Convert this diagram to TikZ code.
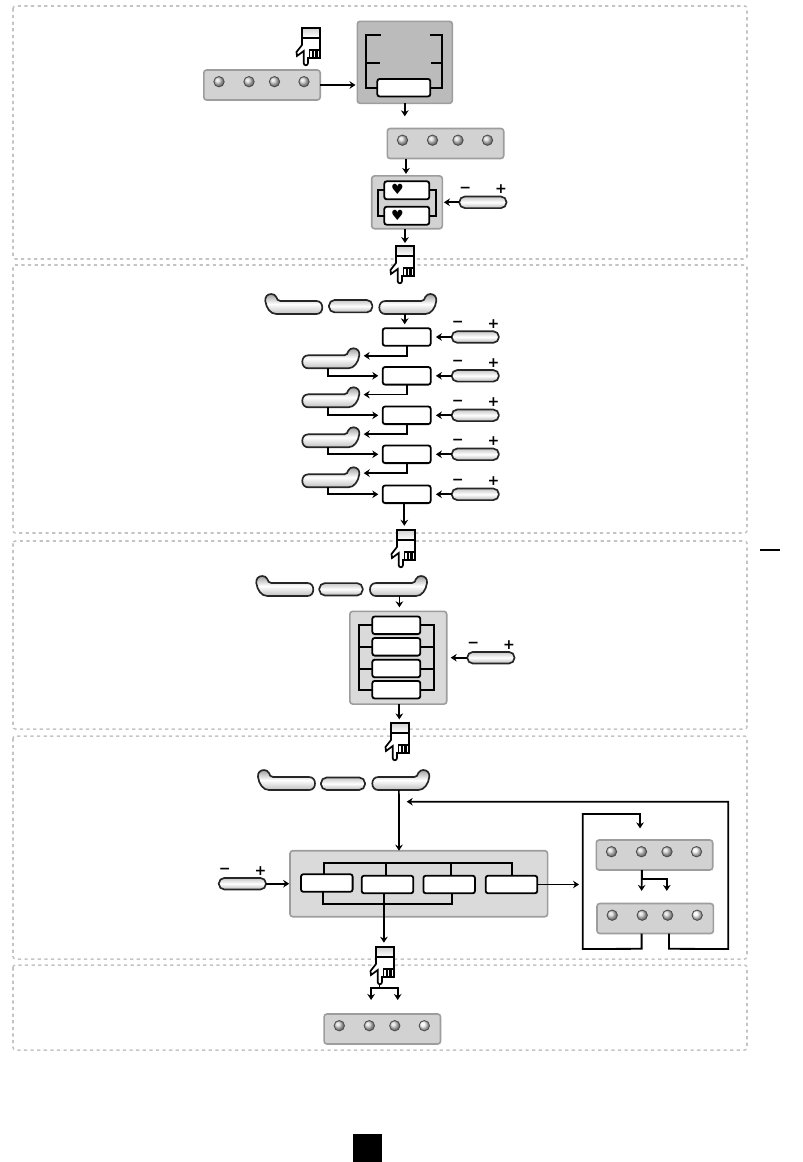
\documentclass[tikz,border=0pt]{standalone}
\usepackage{fontspec}
\usepackage{xcolor}
\usepackage{tikz}
\usetikzlibrary{positioning,arrows.meta,calc}
\newfontfamily\symfont{DejaVu Sans}
\definecolor{cPanel}{HTML}{D2D2D2}
\definecolor{cDark} {HTML}{BBBBBB}
\definecolor{cLight}{HTML}{DADADA}
\definecolor{cEdge} {HTML}{8C8C8C}
\definecolor{cZone} {HTML}{C4C4C4}
\tikzset{
  >={Stealth[length=1.5mm,width=1.9mm]},
  zone/.style={draw=cZone,line width=.38mm,dash pattern=on .8mm off .85mm,rounded corners=.6mm},
  tray/.style={draw=cEdge!85,line width=.4mm,rounded corners=.7mm,outer sep=0,inner sep=0},
  ledbar/.style={tray,fill=cPanel,minimum width=29.1mm,minimum height=7.5mm},
  led/.style={circle,inner sep=0,minimum size=2.6mm,draw=black!70,line width=.2mm,shading=ball},
  dispbox/.style={draw=black,fill=white,line width=.45mm,rounded corners=.6mm,outer sep=0,inner sep=0,
                  minimum width=12mm,minimum height=4.4mm},
  slider/.style={draw=black!85,line width=.42mm,rounded corners=1.4mm,outer sep=0,inner sep=0,
                 minimum width=11.8mm,minimum height=2.9mm,
                 top color=gray!45,bottom color=gray!55,middle color=white},
  midkey/.style={slider,minimum width=10.85mm,minimum height=3.1mm},
  pmtxt/.style={font=\symfont\bfseries\fontsize{10}{10}\selectfont,inner sep=0,text=black},
  hearttxt/.style={font=\symfont\fontsize{10}{10}\selectfont,inner sep=0,text=black},
  wire/.style={line width=.42mm,black},
  sar/.style={->,line width=.42mm,black},
  pics/hookkey/.style={code={
    \draw[line width=.42mm,draw=black!85,top color=gray!75,bottom color=gray!50,middle color=white]
      (6,7) -- (42,7) .. controls (45,7) and (45,5) .. (46,3) .. controls (47,1) and (49,0) .. (51,0)
      .. controls (55,0) and (57.5,3) .. (57,7) .. controls (56,14) and (52,20) .. (46,20) -- (6,20)
      .. controls (2,20) and (0,17) .. (0,13.5) .. controls (0,10) and (2,7) .. (6,7) -- cycle;
    \coordinate (-s) at (25.4,20);
  }},
  pics/handpic/.style={code={
    \draw[line width=.42mm,fill=white] (0,10) -- (0,17) -- (-5.5,24) -- (-5,28) -- (1.7,23) -- (1.7,35)
      .. controls (1.7,38) and (6,38) .. (6,35) -- (6,30) -- (18,30) -- (18,10) -- cycle;
    \draw[line width=.42mm,top color=gray!35,bottom color=white] (0,0) rectangle (18,10);
    \draw[line width=.42mm] (7.5,30) -- (7.5,22) -- (18,22);
    \draw[line width=.55mm] (11,22) -- (11,30) (14.5,22) -- (14.5,30);
    \coordinate (-top) at (9,0);
    \coordinate (-tip) at (3.5,37);
  }},
}
% four lamps on a bar, last one may differ
\newcommand{\ledrow}[2][gray!35]{%
  \foreach \dx/\cc [count=\i] in {-43/gray!35,-13/gray!35,12.5/gray!35,42/#1}
    \node[led,ball color=\cc] (#2led\i) at ($(#2)+(\dx,-3.3)$) {};}
\newcommand{\pmsigns}[1]{%
  \node[pmtxt] (#1minus) at ($(#1.north west)+(6,-7)$) {−};
  \node[pmtxt] (#1plus) at ($(#1.north east)+(-5.5,-7)$) {+};}

\begin{document}
\begin{tikzpicture}[x=.25mm,y=-.25mm]
  \useasboundingbox (0,0) rectangle (803,1162);
  \draw[zone] (13,6) rectangle (747,259);
  \draw[zone] (13,265) rectangle (747,533);
  \draw[zone] (13,541) rectangle (747,729);
  \draw[zone] (13,736) rectangle (747,959);
  \draw[zone] (13,965) rectangle (747,1050);

  % first block
  \pic (hand1) at (302,28) {handpic};
  \node[ledbar] (pa) at (262,85) {}; \ledrow{pa}
  \node[tray,fill=cDark,minimum width=23.75mm,minimum height=20.5mm] (dk) at (404.8,62.3) {};
  \node[dispbox,minimum width=13.25mm] (dw) at (403.8,87.7) {};
  \draw[wire] (dw.west) -- ++(-11.6,0) -- ++(0,-53) -- ++(15,0);
  \draw[wire] (dw.east) -- ++(12,0) -- ++(0,-53) -- ++(-12.5,0);
  \draw[wire] (366,63.3) -- (380,63.3) (430.5,63.3) -- (442.3,63.3);
  \draw[sar] (pa.east) -- ([xshift=-.45mm]dk.west |- pa.east);
  \node[ledbar] (pb) at (445.5,143.5) {}; \ledrow{pb}
  \draw[sar] (dk.south) -- ++(0,13);
  \node[tray,fill=cPanel,minimum width=17.65mm,minimum height=13.2mm] (hb) at (407,202.3) {};
  \node[dispbox,minimum width=11.25mm,minimum height=4.5mm] (hw1) at (406.8,190.3) {};
  \node[dispbox,minimum width=11.25mm,minimum height=4.5mm] (hw2) at (406.8,215.7) {};
  \node[hearttxt] (ht1) at ($(hw1)+(-9.5,-.5)$) {♥};
  \node[hearttxt] (ht2) at ($(hw2)+(-9.5,-.5)$) {♥};
  \draw[wire] (hw1.west) -- ++(-6,0) |- (hw2.west);
  \draw[wire] (hw1.east) -- ++(6.5,0) |- (hw2.east);
  \draw[sar,shorten >=.5mm] ([xshift=-.25mm]pb.south -| hb.north) -- ([xshift=-.25mm]hb.north);
  \node[slider,right=4.25mm of hb] (sa) {}; \pmsigns{sa}
  \draw[sar,shorten >=.4mm] (sa) -- (hb);
  \draw[sar,shorten >=.7mm] ([xshift=-.5mm]hb.south) -- ([xshift=-.5mm,yshift=-4.3mm]hb.south);
  \pic (hand2) at (396,246) {handpic};

  % second block
  \pic[xscale=-1] (kb1) at (322.3,294) {hookkey};
  \node[midkey] (kb2) at (350.7,306.2) {};
  \pic (kb3) at (379.3,294) {hookkey};
  \node[dispbox] (da) at (406.7,337) {};
  \node[dispbox] (db) at (406.7,375.8) {};
  \node[dispbox] (dc) at (406.7,415.3) {};
  \node[dispbox] (dd) at (406.7,454.3) {};
  \node[dispbox] (de) at (406.7,494.3) {};
  \node[slider,right=5.25mm of da] (sb1) {}; \pmsigns{sb1}
  \node[slider,right=5.25mm of db] (sb2) {}; \pmsigns{sb2}
  \node[slider,right=5.25mm of dc] (sb3) {}; \pmsigns{sb3}
  \node[slider,right=5.25mm of dd] (sb4) {}; \pmsigns{sb4}
  \node[slider,right=5.25mm of de] (sb5) {}; \pmsigns{sb5}
  \draw[sar,shorten >=1.3mm] (sb1) -- (da);
  \draw[sar,shorten >=1.3mm] (sb2) -- (db);
  \draw[sar,shorten >=1.3mm] (sb3) -- (dc);
  \draw[sar,shorten >=1.3mm] (sb4) -- (dd);
  \draw[sar,shorten >=1.3mm] (sb5) -- (de);
  \pic (ka) at (302.3,348.3) {hookkey};
  \pic (kc) at (302.3,387.3) {hookkey};
  \pic (kd) at (302.3,427.3) {hookkey};
  \pic (ke) at (302.3,467.3) {hookkey};
  \draw[sar] (kb3-s) -- ++(0,10.3);
  \draw[sar] (da.south) -- ++(0,10) -- ++(-43,0);
  \draw[sar] (db.south) -- ++(0,10) -- ++(-43,0);
  \draw[sar] (dc.south) -- ++(0,10) -- ++(-43,0);
  \draw[sar] (dd.south) -- ++(0,10) -- ++(-43,0);
  \draw[sar,shorten >=1.1mm] (ka-s) |- (db.west);
  \draw[sar,shorten >=1.1mm] (kc-s) |- (dc.west);
  \draw[sar,shorten >=1.1mm] (kd-s) |- (dd.west);
  \draw[sar,shorten >=1.1mm] (ke-s) |- (de.west);
  \draw[sar] ([xshift=-.6mm]de.south) -- ++(0,22.7);
  \pic (hand3) at (397,530) {handpic};

  % third block
  \pic[xscale=-1] (kf1) at (313.3,576) {hookkey};
  \node[midkey] (kf2) at (341,589.3) {};
  \pic (kf3) at (370,576) {hookkey};
  \node[tray,fill=cLight,minimum width=24.2mm,minimum height=23.2mm] (gb) at (398.3,657.7) {};
  \draw[sar,shorten >=.5mm] ([xshift=1mm]kf3-s) -- ++(0,13.3);
  \draw[wire] (396,625.3) -- (359,625.3) -- (359,689.7) -- (396,689.7);
  \draw[wire] (396,625.3) -- (434,625.3) -- (434,689.7) -- (396,689.7);
  \draw[wire] (359,646.8) -- (434,646.8) (359,669) -- (434,669);
  \node[dispbox] (g1) at (396.3,625.3) {};
  \node[dispbox] (g2) at (396.3,646.8) {};
  \node[dispbox] (g3) at (396.3,668.5) {};
  \node[dispbox] (g4) at (396.3,689.7) {};
  \node[slider,right=5.15mm of gb] (sc) {}; \pmsigns{sc}
  \draw[sar,shorten >=1mm] (sc) -- (sc -| gb.east);
  \draw[sar] ([xshift=.25mm]gb.south) -- ++(0,15.3);
  \pic (hand4) at (391,723) {handpic};

  % fourth block
  \pic[xscale=-1] (kg1) at (315,770) {hookkey};
  \node[midkey,minimum width=11mm] (kg2) at (343,783.7) {};
  \pic (kg3) at (372.3,770) {hookkey};
  \node[tray,fill=cLight,minimum width=64.4mm,minimum height=16.5mm] (bb) at (418.8,883.7) {};
  \draw[sar] ([xshift=.3mm]kg3-s) -- ([xshift=-4.95mm]bb.north);
  \draw[wire] (324,875) -- (324,862.7) -- (512.3,862.7) -- (512.3,876);
  \draw[wire] (386,862.7) -- (386,876) (450.7,862.7) -- (450.7,876);
  \draw[wire] (322.7,891) -- (322.7,904) -- (451.7,904) -- (451.7,893);
  \node[dispbox,minimum width=12.9mm] (b1) at (326.8,883) {};
  \node[dispbox,minimum width=12.9mm] (b2) at (387.5,884.5) {};
  \node[dispbox,minimum width=12.9mm] (b3) at (449.2,884.5) {};
  \node[dispbox,minimum width=12.9mm] (b4) at (511.5,884.5) {};
  \node[slider,left=6mm of bb] (sd) {}; \pmsigns{sd}
  \draw[sar,shorten >=.2mm] (sd) -- (bb);
  \draw[sar] ([xshift=-.9mm]b2.south) -- ++(0,49.4);
  \node[ledbar] (pc) at (654.5,855) {}; \ledrow[gray!8]{pc}
  \node[ledbar] (pd) at (655.2,918.5) {}; \ledrow[gray!8]{pd}
  \draw[sar] (b4.east) -- ++(41.7,0);
  \draw[sar,shorten >=3.15mm] ([xshift=-3.2mm]pc.south) -- ([xshift=-3.4mm]pd.north);
  \draw[sar,shorten >=3.15mm] ([xshift=-3.2mm]pc.south) -- ++(0,9.3) -| ([xshift=2.9mm]pd.north);
  \draw[sar,line width=.45mm,shorten >=2.9mm] ([xshift=-3.4mm]pd.south) -- ++(0,15.3) -- (582.7,949)
    -- (582.7,814) -- (640,814) -- ([xshift=-3.6mm]pc.north);
  \coordinate (jn) at (406.7,801.7);
  \draw[sar,line width=.45mm] ([xshift=3.45mm]pd.south) -- ++(0,15.3) -- (728.3,949) -- (728.3,801.7) -- (jn);
  \pic (hand5) at (376,947) {handpic};

  % last block
  \node[ledbar] (pe) at (382.3,1029) {}; \ledrow[gray!8]{pe}
  \draw[sar,shorten >=3.5mm] (hand5-tip) -- ++(0,4) -| ([xshift=-2.8mm]pe.north);
  \draw[sar,shorten >=3.5mm] (hand5-tip) -- ++(0,4) -| ([xshift=3.85mm]pe.north);

  \node[fill=black,inner sep=0,minimum width=5mm,minimum height=.5mm] (tick) at (770,549.7) {};
  \node[fill=black,inner sep=0,minimum width=7.25mm,minimum height=7mm] (pgsq) at (367.5,1148) {};
\end{tikzpicture}
\end{document}
